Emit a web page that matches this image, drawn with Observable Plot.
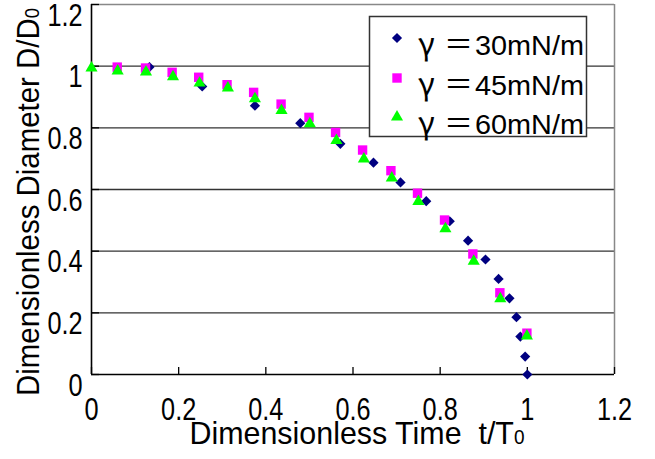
<!DOCTYPE html>
<html>
<head>
<meta charset="utf-8">
<script src="https://cdn.jsdelivr.net/npm/d3@7"></script>
<script src="https://cdn.jsdelivr.net/npm/@observablehq/plot@0.6"></script>
<style>
  body { margin: 0; background: #fff; }
  #wrap { position: relative; width: 655px; height: 459px; overflow: hidden; }
  #overlay { position: absolute; left: 0; top: 0; pointer-events: none; }
</style>
</head>
<body>
<div id="wrap"></div>
<script>
// ---- data ----
const xTicks = [0, 0.2, 0.4, 0.6, 0.8, 1, 1.2];
const yTicks = [0, 0.2, 0.4, 0.6, 0.8, 1, 1.2];
const gridY = [0.2, 0.4, 0.6, 0.8, 1];
const seriesLabels = ["30mN/m", "45mN/m", "60mN/m"];
const xTitle = "Dimensionless Time  t/T";
const yTitle = "Dimensionless Diameter D/D";

const t30 = [0.133, 0.254, 0.375, 0.479, 0.571, 0.647, 0.709, 0.768, 0.822, 0.864, 0.904, 0.934, 0.959, 0.975, 0.984, 0.995, 1.0];
const d30 = [0.997, 0.934, 0.872, 0.815, 0.748, 0.687, 0.623, 0.562, 0.497, 0.434, 0.373, 0.310, 0.247, 0.186, 0.123, 0.058, 0.0];
const t45 = [0.059, 0.124, 0.185, 0.246, 0.311, 0.372, 0.435, 0.499, 0.560, 0.622, 0.687, 0.748, 0.810, 0.875, 0.937, 0.999];
const d45 = [0.997, 0.994, 0.980, 0.964, 0.940, 0.915, 0.877, 0.834, 0.785, 0.728, 0.661, 0.588, 0.501, 0.391, 0.265, 0.134];
const t60 = [0, 0.060, 0.125, 0.187, 0.248, 0.313, 0.375, 0.436, 0.501, 0.562, 0.625, 0.689, 0.750, 0.812, 0.877, 0.938, 0.999];
const d60 = [0.994, 0.984, 0.981, 0.966, 0.945, 0.929, 0.894, 0.856, 0.813, 0.759, 0.699, 0.637, 0.561, 0.473, 0.367, 0.246, 0.125];

const colors = ["#000080", "#FF00FF", "#00FF00"];
const symbols = ["diamond2", "square", "triangle"];
const radii = [4.6, 5.3, 4.5];

const rows = (ts, ds) => ts.map((t, i) => ({t, d: ds[i]}));
const series = [rows(t30, d30), rows(t45, d45), rows(t60, d60)];

const FONT = '"Liberation Sans", Arial, sans-serif';

const chart = Plot.plot({
  width: 655,
  height: 459,
  marginLeft: 91,
  marginRight: 41,
  marginTop: 4,
  marginBottom: 85,
  style: {fontFamily: FONT, fontSize: "32px", color: "#000", background: "#fff"},
  x: {domain: [0, 1.2]},
  y: {domain: [0, 1.2]},
  marks: [
    Plot.ruleY(gridY, {stroke: "#333", strokeWidth: 1.3}),
    Plot.ruleY([1.2], {stroke: "#888", strokeWidth: 1.5}),
    Plot.ruleX([1.2], {stroke: "#888", strokeWidth: 1.5}),
    Plot.axisX({ticks: xTicks, tickSize: -7, tickFormat: () => "", label: null, strokeWidth: 1.3}),
    Plot.axisX({ticks: xTicks, tickSize: 0, tickPadding: 23, label: null, fontSize: 32, tickFormat: d => String(d)}),
    Plot.axisY({ticks: yTicks, tickSize: -8, tickFormat: () => "", label: null, strokeWidth: 1.3}),
    Plot.axisY({ticks: yTicks, tickSize: 0, tickPadding: 9, dy: 11, label: null, fontSize: 32, tickFormat: d => String(d)}),
    Plot.ruleX([0], {stroke: "#000", strokeWidth: 1.6}),
    Plot.ruleY([0], {stroke: "#000", strokeWidth: 1.6}),
    ...series.map((s, i) => Plot.dot(s, {x: "t", y: "d", symbol: symbols[i], fill: colors[i], stroke: "none", r: radii[i]}))
  ]
});

const wrap = document.getElementById("wrap");
wrap.appendChild(chart);

// condense tick labels horizontally (reference uses a narrow gothic face)
chart.querySelectorAll('g[aria-label="x-axis tick label"] text, g[aria-label="y-axis tick label"] text').forEach(t => {
  const len = t.getComputedTextLength();
  if (len > 0) {
    t.setAttribute("textLength", (len * 0.79).toFixed(1));
    t.setAttribute("lengthAdjust", "spacingAndGlyphs");
  }
});

// ---- overlay: axis titles and legend ----
const ov = d3.select(wrap).append("svg")
  .attr("id", "overlay").attr("width", 655).attr("height", 459);

// y title
const yt = ov.append("text")
  .attr("transform", "translate(39,202) rotate(-90)")
  .attr("text-anchor", "middle")
  .attr("font-family", FONT).attr("font-size", 32)
  .attr("textLength", 388).attr("lengthAdjust", "spacingAndGlyphs");
yt.append("tspan").text(yTitle);
yt.append("tspan").attr("font-size", 20).text("0");

// x title
const xt = ov.append("text")
  .attr("x", 357).attr("y", 444)
  .attr("text-anchor", "middle")
  .attr("font-family", FONT).attr("font-size", 32)
  .attr("textLength", 335).attr("lengthAdjust", "spacingAndGlyphs")
  .attr("xml:space", "preserve").style("white-space", "pre");
xt.append("tspan").text(xTitle);
xt.append("tspan").attr("font-size", 20).text("0");

// legend
const lg = ov.append("g");
lg.append("rect").attr("x", 369.5).attr("y", 16.5).attr("width", 217).attr("height", 120)
  .attr("fill", "#fff").attr("stroke", "#333").attr("stroke-width", 1.5);
const symMap = {diamond2: d3.symbolDiamond2, square: d3.symbolSquare, triangle: d3.symbolTriangle};
const baselines = [55, 95, 134];
seriesLabels.forEach((lab, i) => {
  const b = baselines[i];
  lg.append("path")
    .attr("transform", `translate(397,${b - 17})`)
    .attr("d", d3.symbol(symMap[symbols[i]], Math.PI * radii[i] * radii[i])())
    .attr("fill", colors[i]);
  lg.append("text").attr("x", 418).attr("y", b)
    .attr("font-family", '"Noto Sans CJK JP", "DejaVu Sans", sans-serif').attr("font-size", 31)
    .text("γ");
  lg.append("text").attr("x", 444).attr("y", b)
    .attr("font-family", '"Noto Sans CJK JP", "DejaVu Sans", sans-serif').attr("font-size", 29)
    .text("＝");
  lg.append("text").attr("x", 475).attr("y", b)
    .attr("font-family", '"Liberation Sans", sans-serif').attr("font-size", 28)
    .attr("textLength", 109).attr("lengthAdjust", "spacingAndGlyphs")
    .text(lab);
});
</script>
</body>
</html>
